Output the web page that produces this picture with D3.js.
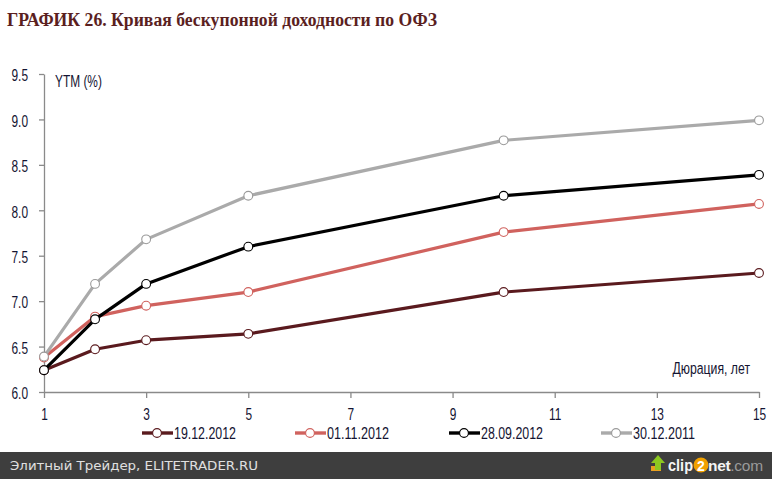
<!DOCTYPE html>
<html><head><meta charset="utf-8">
<script src="https://cdn.jsdelivr.net/npm/d3@7/dist/d3.min.js"></script>
<style>
html,body{margin:0;padding:0;background:#fff;}
svg{display:block;}
</style></head>
<body>
<script>
const durations = [1, 2, 3, 5, 10, 15];
const seriesNames = ["19.12.2012", "01.11.2012", "28.09.2012", "30.12.2011"];
const s19122012 = [6.24, 6.47, 6.57, 6.64, 7.10, 7.31];
const s01112012 = [6.38, 6.83, 6.95, 7.10, 7.76, 8.07];
const s28092012 = [6.24, 6.80, 7.19, 7.60, 8.16, 8.39];
const s30122011 = [6.39, 7.19, 7.68, 8.16, 8.77, 8.99];
const seriesColors = ["#5a1a1e", "#d0625e", "#000000", "#aaaaaa"];
const xTicks = [1, 3, 5, 7, 9, 11, 13, 15];
const yTicks = [6.0, 6.5, 7.0, 7.5, 8.0, 8.5, 9.0, 9.5];
const titleText = "ГРАФИК 26. Кривая бескупонной доходности по ОФЗ";
const yLabel = "YTM (%)";
const xLabel = "Дюрация, лет";
const footerText = "Элитный Трейдер, ELITETRADER.RU";

const allSeries = [s19122012, s01112012, s28092012, s30122011];
const W = 772, H = 479;
const cfont = "'Liberation Sans',Arial,sans-serif";
const FS = 17, SX = 0.7;
const svg = d3.select("body").append("svg").attr("width", W).attr("height", H);

const x = d3.scaleLinear().domain([1, 15]).range([44, 759]);
const y = d3.scaleLinear().domain([6.0, 9.5]).range([392, 74]);

function ctext(px, py, str, sx, anchor) {
  return svg.append("text").attr("transform", `translate(${px},${py}) scale(${sx},1)`)
    .attr("text-anchor", anchor || "start").attr("font-family", cfont)
    .attr("font-size", FS).attr("fill", "#141432").text(str);
}

// title
svg.append("text").attr("x", 7).attr("y", 26)
  .attr("font-family", "'Liberation Serif','DejaVu Serif',serif")
  .attr("font-weight", "bold").attr("font-size", 18).attr("fill", "#5b1f1f")
  .attr("textLength", 430).attr("lengthAdjust", "spacingAndGlyphs")
  .text(titleText);

// axes
const gx = svg.append("g").attr("transform", "translate(0,392)")
  .call(d3.axisBottom(x).tickValues(xTicks).tickFormat(d3.format("d")).tickSize(6).tickSizeOuter(0).tickPadding(8));
const gy = svg.append("g").attr("transform", "translate(44,0)")
  .call(d3.axisLeft(y).tickValues(yTicks).tickFormat(d3.format(".1f")).tickSize(5).tickSizeOuter(0));
[gx, gy].forEach(g => {
  g.select(".domain").attr("stroke", "#8a8a8a").attr("stroke-width", 1.3);
  g.selectAll(".tick line").attr("stroke", "#8a8a8a").attr("stroke-width", 1.3);
  g.selectAll("text").attr("font-family", cfont).attr("font-size", FS).attr("fill", "#141432")
    .attr("transform", `scale(${SX},1)`);
});
gy.selectAll(".tick text").attr("x", -16 / SX).attr("dy", "0.4em");
gx.selectAll(".tick text").attr("dy", "0.8em");

ctext(55, 87, yLabel, SX);
ctext(750, 374, xLabel, 0.72, "end");

// lines
const line = d3.line().x((d, i) => x(durations[i])).y(d => y(d));
allSeries.forEach((vals, k) => {
  const g = svg.append("g");
  g.append("path").datum(vals).attr("d", line).attr("fill", "none")
    .attr("stroke", seriesColors[k]).attr("stroke-width", 3.2).attr("stroke-linejoin", "round");
  g.selectAll("circle").data(vals).join("circle")
    .attr("cx", (d, i) => x(durations[i])).attr("cy", d => y(d)).attr("r", 4.4)
    .attr("fill", "#fff").attr("stroke", k === 3 ? "#9a9a9a" : seriesColors[k]).attr("stroke-width", 1.1);
});

// legend
const legX = [142, 295, 449, 601];
seriesNames.forEach((name, k) => {
  const g = svg.append("g").attr("transform", `translate(${legX[k]},433)`);
  g.append("line").attr("x1", 0).attr("x2", 31).attr("y1", 0).attr("y2", 0)
    .attr("stroke", seriesColors[k]).attr("stroke-width", 3.4);
  g.append("circle").attr("cx", 15).attr("cy", 0).attr("r", 4.4).attr("fill", "#fff")
    .attr("stroke", k === 3 ? "#9a9a9a" : seriesColors[k]).attr("stroke-width", 1.1);
  g.append("text").attr("x", 32).attr("y", 6).attr("font-family", cfont)
    .attr("font-size", FS).attr("fill", "#141432")
    .attr("textLength", 62).attr("lengthAdjust", "spacingAndGlyphs").text(name);
});

// footer
svg.append("rect").attr("x", 0).attr("y", 452).attr("width", W).attr("height", 27).attr("fill", "#3e3e3e");
svg.append("text").attr("x", 10).attr("y", 470).attr("font-family", "'DejaVu Sans',Verdana,sans-serif")
  .attr("font-size", 13).attr("fill", "#e0e0e0")
  .attr("textLength", 248).attr("lengthAdjust", "spacingAndGlyphs").text(footerText);
// clip2net logo
const lg = svg.append("g");
lg.append("rect").attr("x", 651).attr("y", 466).attr("width", 10).attr("height", 5).attr("fill", "#e8a020");
lg.append("path").attr("d", "M658,455 L665,463 L661,463 L661,470 L655,470 L655,463 L651,463 Z").attr("fill", "#8cc820");
const lf = "'Liberation Sans',Arial,sans-serif";
lg.append("text").attr("x", 668).attr("y", 471).attr("font-family", lf).attr("font-size", 17)
  .attr("font-weight", "bold").attr("fill", "#f4f4f4").attr("textLength", 25)
  .attr("lengthAdjust", "spacingAndGlyphs").text("clip");
lg.append("circle").attr("cx", 701).attr("cy", 465).attr("r", 7.5).attr("fill", "#f0a000");
lg.append("text").attr("x", 701).attr("y", 470.5).attr("text-anchor", "middle").attr("font-family", lf)
  .attr("font-size", 14).attr("font-weight", "bold").attr("fill", "#fff").text("2");
const nc = lg.append("text").attr("x", 708).attr("y", 471).attr("font-family", lf).attr("font-size", 15.5)
  .attr("letter-spacing", -0.3);
nc.append("tspan").attr("font-weight", "bold").attr("fill", "#f4f4f4").text("net");
nc.append("tspan").attr("fill", "#9a9a9a").text(".com");
</script>
</body></html>
